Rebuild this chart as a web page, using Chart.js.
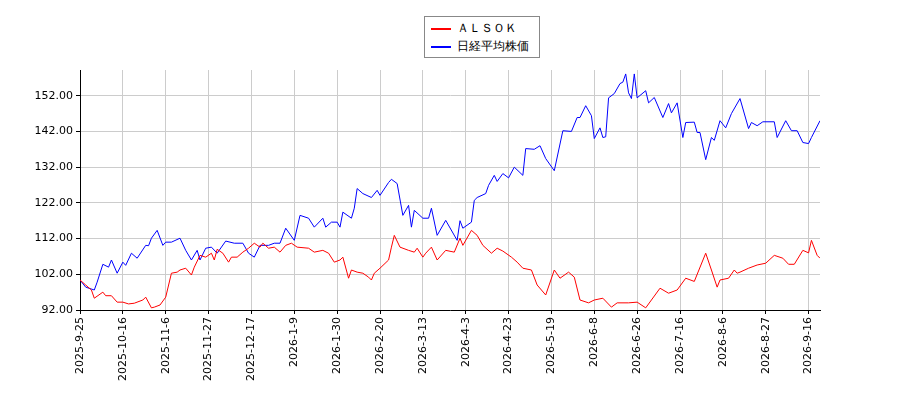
<!DOCTYPE html>
<html><head><meta charset="utf-8">
<script src="https://cdn.jsdelivr.net/npm/chart.js@4/dist/chart.umd.min.js"></script>
<style>
body{margin:0;background:#fff;}
#wrap{position:relative;width:900px;height:400px;}
#lg{position:absolute;left:424px;top:16px;width:114px;border:1px solid #888;background:#fff;font:12px "DejaVu Sans",sans-serif;padding:2px 0;}
#lg div{height:18px;line-height:18px;padding-left:6px;white-space:nowrap;}
#lg span{display:inline-block;width:20px;height:0;border-top:2px solid;vertical-align:middle;margin-right:6px;}
</style></head><body>
<div id="wrap"><canvas id="c" width="900" height="400"></canvas>
<div id="lg"><div><span style="border-color:#f00"></span>ＡＬＳＯＫ</div><div><span style="border-color:#00f"></span>日経平均株価</div></div></div>
<script>
const tickLabels=["2025-9-25","2025-10-16","2025-11-6","2025-11-27","2025-12-17","2026-1-9","2026-1-30","2026-2-20","2026-3-13","2026-4-3","2026-4-23","2026-5-19","2026-6-8","2026-6-26","2026-7-16","2026-8-6","2026-8-27","2026-9-16"];
const yTicks=[92,102,112,122,132,142,152];
const alsokIdx=[0,2,4,5,8,9,11,13,15,17,19,22,23,25,26,28,30,32,34,35,37,39,40,42,44,46,47,48,50,52,53,55,57,59,61,63,64,66,68,70,72,74,76,80,82,85,87,89,91,92,94,95,97,99,101,102,103,105,108,109,110,112,115,117,118,120,121,123,125,128,131,133,134,137,139,141,144,146,148,151,153,155,158,160,163,166,168,171,173,175,178,180,183,186,188,192,195,198,203,206,209,212,215,219,221,223,224,227,229,230,231,234,237,240,243,246,248,250,253,255,256,258,259];
const alsokVal=[100.4,99,97.6,95.3,97,96,96,94.2,94.2,93.7,93.9,94.8,95.6,92.6,92.8,93.4,95.6,102.3,102.6,103.2,103.7,101.8,104,107.3,106.8,107.9,106,109,107.9,105.4,106.8,106.8,108.2,109.3,110.7,109.6,110.7,109.3,109.6,108.2,110.1,110.7,109.6,109.3,108.2,108.7,107.9,105.4,106,106.8,100.9,103.2,102.6,102.3,101.2,100.4,102.3,103.7,106,109.6,112.9,109.6,108.7,108.2,109.3,106.8,107.9,109.6,106,108.7,108.2,112.1,110.1,114.3,112.9,110.1,107.9,109.3,108.5,106.8,105.4,103.7,103.2,99,96.2,103.2,100.9,102.6,101.2,94.8,94,94.8,95.3,92.8,94,94,94.2,92.6,98.1,96.7,97.6,100.9,100,107.9,103.2,98.4,100.4,100.9,103.2,102.3,102.6,103.7,104.6,105.1,107.3,106.5,104.8,104.8,108.7,108,111.5,107.3,106.5];
const nikkeiIdx=[0,2,5,6,8,10,11,13,15,16,18,20,23,24,25,27,29,30,32,35,37,39,41,42,44,46,48,51,54,57,59,61,63,66,68,70,72,75,77,80,82,85,86,88,90,91,92,95,96,97,99,102,104,105,108,109,111,113,115,116,117,120,122,123,125,128,132,133,134,137,138,139,142,143,145,146,148,150,152,155,156,159,161,163,166,169,172,174,175,177,179,180,182,183,184,185,187,189,190,191,192,193,194,195,198,199,201,204,206,207,209,211,212,215,216,217,219,221,222,224,226,228,231,234,235,237,239,243,244,247,249,251,253,255,256,259];
const nikkeiVal=[100.4,98.4,97.6,99.8,104.8,104,106,102.3,105.4,104.5,107.9,106.5,110.1,110,112.1,114.3,110.1,111,111,112.1,108.7,106,108.7,106,109.3,109.6,107.9,111.3,110.7,110.7,107.9,106.8,110.1,110.1,110.7,110.7,114.9,111.5,118.5,117.7,115.2,117.7,115.2,116.6,116.6,115.2,119.4,117.7,120.5,126,124.6,123.5,125.5,124.1,127.7,128.6,127.4,118.5,121.3,115.2,119.9,117.7,117.7,120.5,112.9,117.1,111.5,117,114.9,116.6,122.7,123.5,124.6,126.9,129.7,128,130.2,129,132,129.7,137.2,137,138,134.4,131,142.2,142,145.9,145.9,149.2,146.4,140,143,140.3,140.5,151.4,152.6,155.4,155.8,158.1,152.8,151.2,158.1,151.4,153.4,150,151.5,145.9,149.8,147.2,150,140.3,144.5,144.6,141.7,141.7,134.1,140.3,139.5,145,143,147,151.2,142.8,144.5,143.6,144.7,144.7,140.3,145,142.2,142.2,138.9,138.6,140.3,145];
const pts=(ix,v)=>ix.map((x,i)=>({x:x,y:v[i]}));
const font={family:"DejaVu Sans",size:11};
new Chart(document.getElementById('c'),{
 type:'line',
 data:{datasets:[
  {label:'ＡＬＳＯＫ',data:pts(alsokIdx,alsokVal),borderColor:'#f00',borderWidth:1,pointRadius:0,tension:0},
  {label:'日経平均株価',data:pts(nikkeiIdx,nikkeiVal),borderColor:'#00f',borderWidth:1,pointRadius:0,tension:0}
 ]},
 options:{responsive:false,animation:false,
  layout:{padding:{top:70,right:80,left:0,bottom:0}},
  plugins:{legend:{display:false},tooltip:{enabled:false}},
  scales:{
   x:{type:'linear',min:0,max:259,
     afterBuildTicks:s=>{s.ticks=tickLabels.map((_,i)=>({value:i*15}));},
     afterFit:s=>{s.height=90;},
     ticks:{font:font,color:'#000',minRotation:90,maxRotation:90,autoSkip:false,callback:v=>tickLabels[v/15]},
     grid:{color:'#ccc',tickColor:'#000',tickLength:4},border:{color:'#000'}},
   y:{min:92,max:159.2,
     afterBuildTicks:s=>{s.ticks=yTicks.map(v=>({value:v}));},
     afterFit:s=>{s.width=80;},
     ticks:{font:font,color:'#000',callback:v=>v.toFixed(2)},
     grid:{color:'#ccc',tickColor:'#000',tickLength:4},border:{color:'#000'}}
  }}
});
</script></body></html>
